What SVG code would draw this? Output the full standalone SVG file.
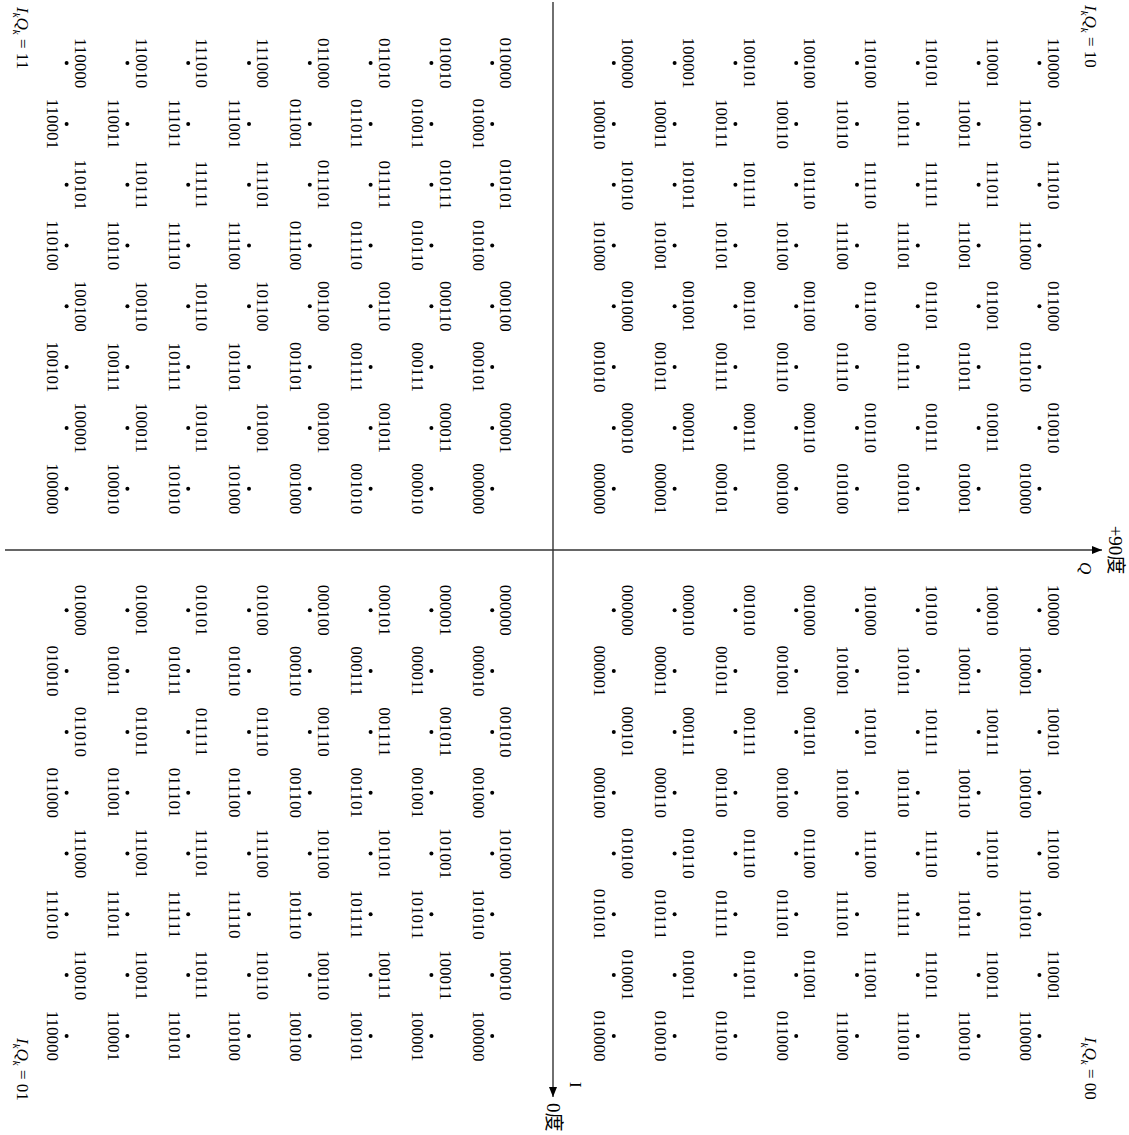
<svg xmlns="http://www.w3.org/2000/svg" width="1129" height="1135" viewBox="0 0 1129 1135">
<style>
text{font-family:"Liberation Serif","Times New Roman","Noto Sans CJK SC",serif;font-size:17px;fill:#000}
.pt text{text-anchor:middle}
.pt circle{fill:#000}
.ax{stroke:#333;stroke-width:1.4;fill:none}
.it{font-style:italic}
.sub{font-style:italic;font-size:11px}
.big{font-size:19px}
</style>
<defs>
<marker id="arr" viewBox="0 0 10 8" refX="10" refY="4" markerWidth="10" markerHeight="8" markerUnits="userSpaceOnUse" orient="auto"><path d="M0,0 L10,4 L0,8 z" fill="#000"/></marker>
</defs>
<rect width="1129" height="1135" fill="#fff"/>
<g transform="translate(1129,0) rotate(90)">
<g id="connectors">
<line id="axis-I" class="ax" x1="2" y1="576" x2="1097" y2="576" marker-end="url(#arr)"/>
<line id="axis-Q" class="ax" x1="550" y1="1124" x2="550" y2="27" marker-end="url(#arr)"/>
</g>
<g id="axis-labels">
<text x="1082" y="559">I</text>
<text class="big" x="1103" y="582">0度</text>
<text class="it" x="562" y="49">Q</text>
<text class="big" x="550" y="20" text-anchor="middle">+90度</text>
</g>
<g id="quadrant-labels">
<text x="7" y="1112"><tspan class="it">I</tspan><tspan class="sub" dy="4">k</tspan><tspan class="it" dy="-4">Q</tspan><tspan class="sub" dy="4">k</tspan><tspan dy="-4"> = 11</tspan></text>
<text x="5" y="44"><tspan class="it">I</tspan><tspan class="sub" dy="4">k</tspan><tspan class="it" dy="-4">Q</tspan><tspan class="sub" dy="4">k</tspan><tspan dy="-4"> = 10</tspan></text>
<text x="1038" y="1112"><tspan class="it">I</tspan><tspan class="sub" dy="4">k</tspan><tspan class="it" dy="-4">Q</tspan><tspan class="sub" dy="4">k</tspan><tspan dy="-4"> = 01</tspan></text>
<text x="1037" y="44"><tspan class="it">I</tspan><tspan class="sub" dy="4">k</tspan><tspan class="it" dy="-4">Q</tspan><tspan class="sub" dy="4">k</tspan><tspan dy="-4"> = 00</tspan></text>
</g>
<g transform="translate(549.5,576)">
<g id="q11" class="pt">
<g id="n11-00" transform="translate(-60.8,60.8)"><circle r="2"/><text y="19.6">000000</text></g>
<g id="n11-01" transform="translate(-121.6,60.8)"><circle r="2"/><text y="-8.3">000001</text></g>
<g id="n11-02" transform="translate(-182.4,60.8)"><circle r="2"/><text y="19.6">000101</text></g>
<g id="n11-03" transform="translate(-243.2,60.8)"><circle r="2"/><text y="-8.3">000100</text></g>
<g id="n11-04" transform="translate(-304,60.8)"><circle r="2"/><text y="19.6">010100</text></g>
<g id="n11-05" transform="translate(-364.8,60.8)"><circle r="2"/><text y="-8.3">010101</text></g>
<g id="n11-06" transform="translate(-425.6,60.8)"><circle r="2"/><text y="19.6">010001</text></g>
<g id="n11-07" transform="translate(-486.4,60.8)"><circle r="2"/><text y="-8.3">010000</text></g>
<g id="n11-10" transform="translate(-60.8,121.6)"><circle r="2"/><text y="19.6">000010</text></g>
<g id="n11-11" transform="translate(-121.6,121.6)"><circle r="2"/><text y="-8.3">000011</text></g>
<g id="n11-12" transform="translate(-182.4,121.6)"><circle r="2"/><text y="19.6">000111</text></g>
<g id="n11-13" transform="translate(-243.2,121.6)"><circle r="2"/><text y="-8.3">000110</text></g>
<g id="n11-14" transform="translate(-304,121.6)"><circle r="2"/><text y="19.6">010110</text></g>
<g id="n11-15" transform="translate(-364.8,121.6)"><circle r="2"/><text y="-8.3">010111</text></g>
<g id="n11-16" transform="translate(-425.6,121.6)"><circle r="2"/><text y="19.6">010011</text></g>
<g id="n11-17" transform="translate(-486.4,121.6)"><circle r="2"/><text y="-8.3">010010</text></g>
<g id="n11-20" transform="translate(-60.8,182.4)"><circle r="2"/><text y="19.6">001010</text></g>
<g id="n11-21" transform="translate(-121.6,182.4)"><circle r="2"/><text y="-8.3">001011</text></g>
<g id="n11-22" transform="translate(-182.4,182.4)"><circle r="2"/><text y="19.6">001111</text></g>
<g id="n11-23" transform="translate(-243.2,182.4)"><circle r="2"/><text y="-8.3">001110</text></g>
<g id="n11-24" transform="translate(-304,182.4)"><circle r="2"/><text y="19.6">011110</text></g>
<g id="n11-25" transform="translate(-364.8,182.4)"><circle r="2"/><text y="-8.3">011111</text></g>
<g id="n11-26" transform="translate(-425.6,182.4)"><circle r="2"/><text y="19.6">011011</text></g>
<g id="n11-27" transform="translate(-486.4,182.4)"><circle r="2"/><text y="-8.3">011010</text></g>
<g id="n11-30" transform="translate(-60.8,243.2)"><circle r="2"/><text y="19.6">001000</text></g>
<g id="n11-31" transform="translate(-121.6,243.2)"><circle r="2"/><text y="-8.3">001001</text></g>
<g id="n11-32" transform="translate(-182.4,243.2)"><circle r="2"/><text y="19.6">001101</text></g>
<g id="n11-33" transform="translate(-243.2,243.2)"><circle r="2"/><text y="-8.3">001100</text></g>
<g id="n11-34" transform="translate(-304,243.2)"><circle r="2"/><text y="19.6">011100</text></g>
<g id="n11-35" transform="translate(-364.8,243.2)"><circle r="2"/><text y="-8.3">011101</text></g>
<g id="n11-36" transform="translate(-425.6,243.2)"><circle r="2"/><text y="19.6">011001</text></g>
<g id="n11-37" transform="translate(-486.4,243.2)"><circle r="2"/><text y="-8.3">011000</text></g>
<g id="n11-40" transform="translate(-60.8,304)"><circle r="2"/><text y="19.6">101000</text></g>
<g id="n11-41" transform="translate(-121.6,304)"><circle r="2"/><text y="-8.3">101001</text></g>
<g id="n11-42" transform="translate(-182.4,304)"><circle r="2"/><text y="19.6">101101</text></g>
<g id="n11-43" transform="translate(-243.2,304)"><circle r="2"/><text y="-8.3">101100</text></g>
<g id="n11-44" transform="translate(-304,304)"><circle r="2"/><text y="19.6">111100</text></g>
<g id="n11-45" transform="translate(-364.8,304)"><circle r="2"/><text y="-8.3">111101</text></g>
<g id="n11-46" transform="translate(-425.6,304)"><circle r="2"/><text y="19.6">111001</text></g>
<g id="n11-47" transform="translate(-486.4,304)"><circle r="2"/><text y="-8.3">111000</text></g>
<g id="n11-50" transform="translate(-60.8,364.8)"><circle r="2"/><text y="19.6">101010</text></g>
<g id="n11-51" transform="translate(-121.6,364.8)"><circle r="2"/><text y="-8.3">101011</text></g>
<g id="n11-52" transform="translate(-182.4,364.8)"><circle r="2"/><text y="19.6">101111</text></g>
<g id="n11-53" transform="translate(-243.2,364.8)"><circle r="2"/><text y="-8.3">101110</text></g>
<g id="n11-54" transform="translate(-304,364.8)"><circle r="2"/><text y="19.6">111110</text></g>
<g id="n11-55" transform="translate(-364.8,364.8)"><circle r="2"/><text y="-8.3">111111</text></g>
<g id="n11-56" transform="translate(-425.6,364.8)"><circle r="2"/><text y="19.6">111011</text></g>
<g id="n11-57" transform="translate(-486.4,364.8)"><circle r="2"/><text y="-8.3">111010</text></g>
<g id="n11-60" transform="translate(-60.8,425.6)"><circle r="2"/><text y="19.6">100010</text></g>
<g id="n11-61" transform="translate(-121.6,425.6)"><circle r="2"/><text y="-8.3">100011</text></g>
<g id="n11-62" transform="translate(-182.4,425.6)"><circle r="2"/><text y="19.6">100111</text></g>
<g id="n11-63" transform="translate(-243.2,425.6)"><circle r="2"/><text y="-8.3">100110</text></g>
<g id="n11-64" transform="translate(-304,425.6)"><circle r="2"/><text y="19.6">110110</text></g>
<g id="n11-65" transform="translate(-364.8,425.6)"><circle r="2"/><text y="-8.3">110111</text></g>
<g id="n11-66" transform="translate(-425.6,425.6)"><circle r="2"/><text y="19.6">110011</text></g>
<g id="n11-67" transform="translate(-486.4,425.6)"><circle r="2"/><text y="-8.3">110010</text></g>
<g id="n11-70" transform="translate(-60.8,486.4)"><circle r="2"/><text y="19.6">100000</text></g>
<g id="n11-71" transform="translate(-121.6,486.4)"><circle r="2"/><text y="-8.3">100001</text></g>
<g id="n11-72" transform="translate(-182.4,486.4)"><circle r="2"/><text y="19.6">100101</text></g>
<g id="n11-73" transform="translate(-243.2,486.4)"><circle r="2"/><text y="-8.3">100100</text></g>
<g id="n11-74" transform="translate(-304,486.4)"><circle r="2"/><text y="19.6">110100</text></g>
<g id="n11-75" transform="translate(-364.8,486.4)"><circle r="2"/><text y="-8.3">110101</text></g>
<g id="n11-76" transform="translate(-425.6,486.4)"><circle r="2"/><text y="19.6">110001</text></g>
<g id="n11-77" transform="translate(-486.4,486.4)"><circle r="2"/><text y="-8.3">110000</text></g>
</g>
<g id="q10" class="pt">
<g id="n10-00" transform="translate(-60.8,-60.8)"><circle r="2"/><text y="19.6">000000</text></g>
<g id="n10-01" transform="translate(-121.6,-60.8)"><circle r="2"/><text y="-8.3">000010</text></g>
<g id="n10-02" transform="translate(-182.4,-60.8)"><circle r="2"/><text y="19.6">001010</text></g>
<g id="n10-03" transform="translate(-243.2,-60.8)"><circle r="2"/><text y="-8.3">001000</text></g>
<g id="n10-04" transform="translate(-304,-60.8)"><circle r="2"/><text y="19.6">101000</text></g>
<g id="n10-05" transform="translate(-364.8,-60.8)"><circle r="2"/><text y="-8.3">101010</text></g>
<g id="n10-06" transform="translate(-425.6,-60.8)"><circle r="2"/><text y="19.6">100010</text></g>
<g id="n10-07" transform="translate(-486.4,-60.8)"><circle r="2"/><text y="-8.3">100000</text></g>
<g id="n10-10" transform="translate(-60.8,-121.6)"><circle r="2"/><text y="19.6">000001</text></g>
<g id="n10-11" transform="translate(-121.6,-121.6)"><circle r="2"/><text y="-8.3">000011</text></g>
<g id="n10-12" transform="translate(-182.4,-121.6)"><circle r="2"/><text y="19.6">001011</text></g>
<g id="n10-13" transform="translate(-243.2,-121.6)"><circle r="2"/><text y="-8.3">001001</text></g>
<g id="n10-14" transform="translate(-304,-121.6)"><circle r="2"/><text y="19.6">101001</text></g>
<g id="n10-15" transform="translate(-364.8,-121.6)"><circle r="2"/><text y="-8.3">101011</text></g>
<g id="n10-16" transform="translate(-425.6,-121.6)"><circle r="2"/><text y="19.6">100011</text></g>
<g id="n10-17" transform="translate(-486.4,-121.6)"><circle r="2"/><text y="-8.3">100001</text></g>
<g id="n10-20" transform="translate(-60.8,-182.4)"><circle r="2"/><text y="19.6">000101</text></g>
<g id="n10-21" transform="translate(-121.6,-182.4)"><circle r="2"/><text y="-8.3">000111</text></g>
<g id="n10-22" transform="translate(-182.4,-182.4)"><circle r="2"/><text y="19.6">001111</text></g>
<g id="n10-23" transform="translate(-243.2,-182.4)"><circle r="2"/><text y="-8.3">001101</text></g>
<g id="n10-24" transform="translate(-304,-182.4)"><circle r="2"/><text y="19.6">101101</text></g>
<g id="n10-25" transform="translate(-364.8,-182.4)"><circle r="2"/><text y="-8.3">101111</text></g>
<g id="n10-26" transform="translate(-425.6,-182.4)"><circle r="2"/><text y="19.6">100111</text></g>
<g id="n10-27" transform="translate(-486.4,-182.4)"><circle r="2"/><text y="-8.3">100101</text></g>
<g id="n10-30" transform="translate(-60.8,-243.2)"><circle r="2"/><text y="19.6">000100</text></g>
<g id="n10-31" transform="translate(-121.6,-243.2)"><circle r="2"/><text y="-8.3">000110</text></g>
<g id="n10-32" transform="translate(-182.4,-243.2)"><circle r="2"/><text y="19.6">001110</text></g>
<g id="n10-33" transform="translate(-243.2,-243.2)"><circle r="2"/><text y="-8.3">001100</text></g>
<g id="n10-34" transform="translate(-304,-243.2)"><circle r="2"/><text y="19.6">101100</text></g>
<g id="n10-35" transform="translate(-364.8,-243.2)"><circle r="2"/><text y="-8.3">101110</text></g>
<g id="n10-36" transform="translate(-425.6,-243.2)"><circle r="2"/><text y="19.6">100110</text></g>
<g id="n10-37" transform="translate(-486.4,-243.2)"><circle r="2"/><text y="-8.3">100100</text></g>
<g id="n10-40" transform="translate(-60.8,-304)"><circle r="2"/><text y="19.6">010100</text></g>
<g id="n10-41" transform="translate(-121.6,-304)"><circle r="2"/><text y="-8.3">010110</text></g>
<g id="n10-42" transform="translate(-182.4,-304)"><circle r="2"/><text y="19.6">011110</text></g>
<g id="n10-43" transform="translate(-243.2,-304)"><circle r="2"/><text y="-8.3">011100</text></g>
<g id="n10-44" transform="translate(-304,-304)"><circle r="2"/><text y="19.6">111100</text></g>
<g id="n10-45" transform="translate(-364.8,-304)"><circle r="2"/><text y="-8.3">111110</text></g>
<g id="n10-46" transform="translate(-425.6,-304)"><circle r="2"/><text y="19.6">110110</text></g>
<g id="n10-47" transform="translate(-486.4,-304)"><circle r="2"/><text y="-8.3">110100</text></g>
<g id="n10-50" transform="translate(-60.8,-364.8)"><circle r="2"/><text y="19.6">010101</text></g>
<g id="n10-51" transform="translate(-121.6,-364.8)"><circle r="2"/><text y="-8.3">010111</text></g>
<g id="n10-52" transform="translate(-182.4,-364.8)"><circle r="2"/><text y="19.6">011111</text></g>
<g id="n10-53" transform="translate(-243.2,-364.8)"><circle r="2"/><text y="-8.3">011101</text></g>
<g id="n10-54" transform="translate(-304,-364.8)"><circle r="2"/><text y="19.6">111101</text></g>
<g id="n10-55" transform="translate(-364.8,-364.8)"><circle r="2"/><text y="-8.3">111111</text></g>
<g id="n10-56" transform="translate(-425.6,-364.8)"><circle r="2"/><text y="19.6">110111</text></g>
<g id="n10-57" transform="translate(-486.4,-364.8)"><circle r="2"/><text y="-8.3">110101</text></g>
<g id="n10-60" transform="translate(-60.8,-425.6)"><circle r="2"/><text y="19.6">010001</text></g>
<g id="n10-61" transform="translate(-121.6,-425.6)"><circle r="2"/><text y="-8.3">010011</text></g>
<g id="n10-62" transform="translate(-182.4,-425.6)"><circle r="2"/><text y="19.6">011011</text></g>
<g id="n10-63" transform="translate(-243.2,-425.6)"><circle r="2"/><text y="-8.3">011001</text></g>
<g id="n10-64" transform="translate(-304,-425.6)"><circle r="2"/><text y="19.6">111001</text></g>
<g id="n10-65" transform="translate(-364.8,-425.6)"><circle r="2"/><text y="-8.3">111011</text></g>
<g id="n10-66" transform="translate(-425.6,-425.6)"><circle r="2"/><text y="19.6">110011</text></g>
<g id="n10-67" transform="translate(-486.4,-425.6)"><circle r="2"/><text y="-8.3">110001</text></g>
<g id="n10-70" transform="translate(-60.8,-486.4)"><circle r="2"/><text y="19.6">010000</text></g>
<g id="n10-71" transform="translate(-121.6,-486.4)"><circle r="2"/><text y="-8.3">010010</text></g>
<g id="n10-72" transform="translate(-182.4,-486.4)"><circle r="2"/><text y="19.6">011010</text></g>
<g id="n10-73" transform="translate(-243.2,-486.4)"><circle r="2"/><text y="-8.3">011000</text></g>
<g id="n10-74" transform="translate(-304,-486.4)"><circle r="2"/><text y="19.6">111000</text></g>
<g id="n10-75" transform="translate(-364.8,-486.4)"><circle r="2"/><text y="-8.3">111010</text></g>
<g id="n10-76" transform="translate(-425.6,-486.4)"><circle r="2"/><text y="19.6">110010</text></g>
<g id="n10-77" transform="translate(-486.4,-486.4)"><circle r="2"/><text y="-8.3">110000</text></g>
</g>
<g id="q00" class="pt">
<g id="n00-00" transform="translate(60.8,-60.8)"><circle r="2"/><text y="-8.3">000000</text></g>
<g id="n00-01" transform="translate(121.6,-60.8)"><circle r="2"/><text y="19.6">000001</text></g>
<g id="n00-02" transform="translate(182.4,-60.8)"><circle r="2"/><text y="-8.3">000101</text></g>
<g id="n00-03" transform="translate(243.2,-60.8)"><circle r="2"/><text y="19.6">000100</text></g>
<g id="n00-04" transform="translate(304,-60.8)"><circle r="2"/><text y="-8.3">010100</text></g>
<g id="n00-05" transform="translate(364.8,-60.8)"><circle r="2"/><text y="19.6">010101</text></g>
<g id="n00-06" transform="translate(425.6,-60.8)"><circle r="2"/><text y="-8.3">010001</text></g>
<g id="n00-07" transform="translate(486.4,-60.8)"><circle r="2"/><text y="19.6">010000</text></g>
<g id="n00-10" transform="translate(60.8,-121.6)"><circle r="2"/><text y="-8.3">000010</text></g>
<g id="n00-11" transform="translate(121.6,-121.6)"><circle r="2"/><text y="19.6">000011</text></g>
<g id="n00-12" transform="translate(182.4,-121.6)"><circle r="2"/><text y="-8.3">000111</text></g>
<g id="n00-13" transform="translate(243.2,-121.6)"><circle r="2"/><text y="19.6">000110</text></g>
<g id="n00-14" transform="translate(304,-121.6)"><circle r="2"/><text y="-8.3">010110</text></g>
<g id="n00-15" transform="translate(364.8,-121.6)"><circle r="2"/><text y="19.6">010111</text></g>
<g id="n00-16" transform="translate(425.6,-121.6)"><circle r="2"/><text y="-8.3">010011</text></g>
<g id="n00-17" transform="translate(486.4,-121.6)"><circle r="2"/><text y="19.6">010010</text></g>
<g id="n00-20" transform="translate(60.8,-182.4)"><circle r="2"/><text y="-8.3">001010</text></g>
<g id="n00-21" transform="translate(121.6,-182.4)"><circle r="2"/><text y="19.6">001011</text></g>
<g id="n00-22" transform="translate(182.4,-182.4)"><circle r="2"/><text y="-8.3">001111</text></g>
<g id="n00-23" transform="translate(243.2,-182.4)"><circle r="2"/><text y="19.6">001110</text></g>
<g id="n00-24" transform="translate(304,-182.4)"><circle r="2"/><text y="-8.3">011110</text></g>
<g id="n00-25" transform="translate(364.8,-182.4)"><circle r="2"/><text y="19.6">011111</text></g>
<g id="n00-26" transform="translate(425.6,-182.4)"><circle r="2"/><text y="-8.3">011011</text></g>
<g id="n00-27" transform="translate(486.4,-182.4)"><circle r="2"/><text y="19.6">011010</text></g>
<g id="n00-30" transform="translate(60.8,-243.2)"><circle r="2"/><text y="-8.3">001000</text></g>
<g id="n00-31" transform="translate(121.6,-243.2)"><circle r="2"/><text y="19.6">001001</text></g>
<g id="n00-32" transform="translate(182.4,-243.2)"><circle r="2"/><text y="-8.3">001101</text></g>
<g id="n00-33" transform="translate(243.2,-243.2)"><circle r="2"/><text y="19.6">001100</text></g>
<g id="n00-34" transform="translate(304,-243.2)"><circle r="2"/><text y="-8.3">011100</text></g>
<g id="n00-35" transform="translate(364.8,-243.2)"><circle r="2"/><text y="19.6">011101</text></g>
<g id="n00-36" transform="translate(425.6,-243.2)"><circle r="2"/><text y="-8.3">011001</text></g>
<g id="n00-37" transform="translate(486.4,-243.2)"><circle r="2"/><text y="19.6">011000</text></g>
<g id="n00-40" transform="translate(60.8,-304)"><circle r="2"/><text y="-8.3">101000</text></g>
<g id="n00-41" transform="translate(121.6,-304)"><circle r="2"/><text y="19.6">101001</text></g>
<g id="n00-42" transform="translate(182.4,-304)"><circle r="2"/><text y="-8.3">101101</text></g>
<g id="n00-43" transform="translate(243.2,-304)"><circle r="2"/><text y="19.6">101100</text></g>
<g id="n00-44" transform="translate(304,-304)"><circle r="2"/><text y="-8.3">111100</text></g>
<g id="n00-45" transform="translate(364.8,-304)"><circle r="2"/><text y="19.6">111101</text></g>
<g id="n00-46" transform="translate(425.6,-304)"><circle r="2"/><text y="-8.3">111001</text></g>
<g id="n00-47" transform="translate(486.4,-304)"><circle r="2"/><text y="19.6">111000</text></g>
<g id="n00-50" transform="translate(60.8,-364.8)"><circle r="2"/><text y="-8.3">101010</text></g>
<g id="n00-51" transform="translate(121.6,-364.8)"><circle r="2"/><text y="19.6">101011</text></g>
<g id="n00-52" transform="translate(182.4,-364.8)"><circle r="2"/><text y="-8.3">101111</text></g>
<g id="n00-53" transform="translate(243.2,-364.8)"><circle r="2"/><text y="19.6">101110</text></g>
<g id="n00-54" transform="translate(304,-364.8)"><circle r="2"/><text y="-8.3">111110</text></g>
<g id="n00-55" transform="translate(364.8,-364.8)"><circle r="2"/><text y="19.6">111111</text></g>
<g id="n00-56" transform="translate(425.6,-364.8)"><circle r="2"/><text y="-8.3">111011</text></g>
<g id="n00-57" transform="translate(486.4,-364.8)"><circle r="2"/><text y="19.6">111010</text></g>
<g id="n00-60" transform="translate(60.8,-425.6)"><circle r="2"/><text y="-8.3">100010</text></g>
<g id="n00-61" transform="translate(121.6,-425.6)"><circle r="2"/><text y="19.6">100011</text></g>
<g id="n00-62" transform="translate(182.4,-425.6)"><circle r="2"/><text y="-8.3">100111</text></g>
<g id="n00-63" transform="translate(243.2,-425.6)"><circle r="2"/><text y="19.6">100110</text></g>
<g id="n00-64" transform="translate(304,-425.6)"><circle r="2"/><text y="-8.3">110110</text></g>
<g id="n00-65" transform="translate(364.8,-425.6)"><circle r="2"/><text y="19.6">110111</text></g>
<g id="n00-66" transform="translate(425.6,-425.6)"><circle r="2"/><text y="-8.3">110011</text></g>
<g id="n00-67" transform="translate(486.4,-425.6)"><circle r="2"/><text y="19.6">110010</text></g>
<g id="n00-70" transform="translate(60.8,-486.4)"><circle r="2"/><text y="-8.3">100000</text></g>
<g id="n00-71" transform="translate(121.6,-486.4)"><circle r="2"/><text y="19.6">100001</text></g>
<g id="n00-72" transform="translate(182.4,-486.4)"><circle r="2"/><text y="-8.3">100101</text></g>
<g id="n00-73" transform="translate(243.2,-486.4)"><circle r="2"/><text y="19.6">100100</text></g>
<g id="n00-74" transform="translate(304,-486.4)"><circle r="2"/><text y="-8.3">110100</text></g>
<g id="n00-75" transform="translate(364.8,-486.4)"><circle r="2"/><text y="19.6">110101</text></g>
<g id="n00-76" transform="translate(425.6,-486.4)"><circle r="2"/><text y="-8.3">110001</text></g>
<g id="n00-77" transform="translate(486.4,-486.4)"><circle r="2"/><text y="19.6">110000</text></g>
</g>
<g id="q01" class="pt">
<g id="n01-00" transform="translate(60.8,60.8)"><circle r="2"/><text y="-8.3">000000</text></g>
<g id="n01-01" transform="translate(121.6,60.8)"><circle r="2"/><text y="19.6">000010</text></g>
<g id="n01-02" transform="translate(182.4,60.8)"><circle r="2"/><text y="-8.3">001010</text></g>
<g id="n01-03" transform="translate(243.2,60.8)"><circle r="2"/><text y="19.6">001000</text></g>
<g id="n01-04" transform="translate(304,60.8)"><circle r="2"/><text y="-8.3">101000</text></g>
<g id="n01-05" transform="translate(364.8,60.8)"><circle r="2"/><text y="19.6">101010</text></g>
<g id="n01-06" transform="translate(425.6,60.8)"><circle r="2"/><text y="-8.3">100010</text></g>
<g id="n01-07" transform="translate(486.4,60.8)"><circle r="2"/><text y="19.6">100000</text></g>
<g id="n01-10" transform="translate(60.8,121.6)"><circle r="2"/><text y="-8.3">000001</text></g>
<g id="n01-11" transform="translate(121.6,121.6)"><circle r="2"/><text y="19.6">000011</text></g>
<g id="n01-12" transform="translate(182.4,121.6)"><circle r="2"/><text y="-8.3">001011</text></g>
<g id="n01-13" transform="translate(243.2,121.6)"><circle r="2"/><text y="19.6">001001</text></g>
<g id="n01-14" transform="translate(304,121.6)"><circle r="2"/><text y="-8.3">101001</text></g>
<g id="n01-15" transform="translate(364.8,121.6)"><circle r="2"/><text y="19.6">101011</text></g>
<g id="n01-16" transform="translate(425.6,121.6)"><circle r="2"/><text y="-8.3">100011</text></g>
<g id="n01-17" transform="translate(486.4,121.6)"><circle r="2"/><text y="19.6">100001</text></g>
<g id="n01-20" transform="translate(60.8,182.4)"><circle r="2"/><text y="-8.3">000101</text></g>
<g id="n01-21" transform="translate(121.6,182.4)"><circle r="2"/><text y="19.6">000111</text></g>
<g id="n01-22" transform="translate(182.4,182.4)"><circle r="2"/><text y="-8.3">001111</text></g>
<g id="n01-23" transform="translate(243.2,182.4)"><circle r="2"/><text y="19.6">001101</text></g>
<g id="n01-24" transform="translate(304,182.4)"><circle r="2"/><text y="-8.3">101101</text></g>
<g id="n01-25" transform="translate(364.8,182.4)"><circle r="2"/><text y="19.6">101111</text></g>
<g id="n01-26" transform="translate(425.6,182.4)"><circle r="2"/><text y="-8.3">100111</text></g>
<g id="n01-27" transform="translate(486.4,182.4)"><circle r="2"/><text y="19.6">100101</text></g>
<g id="n01-30" transform="translate(60.8,243.2)"><circle r="2"/><text y="-8.3">000100</text></g>
<g id="n01-31" transform="translate(121.6,243.2)"><circle r="2"/><text y="19.6">000110</text></g>
<g id="n01-32" transform="translate(182.4,243.2)"><circle r="2"/><text y="-8.3">001110</text></g>
<g id="n01-33" transform="translate(243.2,243.2)"><circle r="2"/><text y="19.6">001100</text></g>
<g id="n01-34" transform="translate(304,243.2)"><circle r="2"/><text y="-8.3">101100</text></g>
<g id="n01-35" transform="translate(364.8,243.2)"><circle r="2"/><text y="19.6">101110</text></g>
<g id="n01-36" transform="translate(425.6,243.2)"><circle r="2"/><text y="-8.3">100110</text></g>
<g id="n01-37" transform="translate(486.4,243.2)"><circle r="2"/><text y="19.6">100100</text></g>
<g id="n01-40" transform="translate(60.8,304)"><circle r="2"/><text y="-8.3">010100</text></g>
<g id="n01-41" transform="translate(121.6,304)"><circle r="2"/><text y="19.6">010110</text></g>
<g id="n01-42" transform="translate(182.4,304)"><circle r="2"/><text y="-8.3">011110</text></g>
<g id="n01-43" transform="translate(243.2,304)"><circle r="2"/><text y="19.6">011100</text></g>
<g id="n01-44" transform="translate(304,304)"><circle r="2"/><text y="-8.3">111100</text></g>
<g id="n01-45" transform="translate(364.8,304)"><circle r="2"/><text y="19.6">111110</text></g>
<g id="n01-46" transform="translate(425.6,304)"><circle r="2"/><text y="-8.3">110110</text></g>
<g id="n01-47" transform="translate(486.4,304)"><circle r="2"/><text y="19.6">110100</text></g>
<g id="n01-50" transform="translate(60.8,364.8)"><circle r="2"/><text y="-8.3">010101</text></g>
<g id="n01-51" transform="translate(121.6,364.8)"><circle r="2"/><text y="19.6">010111</text></g>
<g id="n01-52" transform="translate(182.4,364.8)"><circle r="2"/><text y="-8.3">011111</text></g>
<g id="n01-53" transform="translate(243.2,364.8)"><circle r="2"/><text y="19.6">011101</text></g>
<g id="n01-54" transform="translate(304,364.8)"><circle r="2"/><text y="-8.3">111101</text></g>
<g id="n01-55" transform="translate(364.8,364.8)"><circle r="2"/><text y="19.6">111111</text></g>
<g id="n01-56" transform="translate(425.6,364.8)"><circle r="2"/><text y="-8.3">110111</text></g>
<g id="n01-57" transform="translate(486.4,364.8)"><circle r="2"/><text y="19.6">110101</text></g>
<g id="n01-60" transform="translate(60.8,425.6)"><circle r="2"/><text y="-8.3">010001</text></g>
<g id="n01-61" transform="translate(121.6,425.6)"><circle r="2"/><text y="19.6">010011</text></g>
<g id="n01-62" transform="translate(182.4,425.6)"><circle r="2"/><text y="-8.3">011011</text></g>
<g id="n01-63" transform="translate(243.2,425.6)"><circle r="2"/><text y="19.6">011001</text></g>
<g id="n01-64" transform="translate(304,425.6)"><circle r="2"/><text y="-8.3">111001</text></g>
<g id="n01-65" transform="translate(364.8,425.6)"><circle r="2"/><text y="19.6">111011</text></g>
<g id="n01-66" transform="translate(425.6,425.6)"><circle r="2"/><text y="-8.3">110011</text></g>
<g id="n01-67" transform="translate(486.4,425.6)"><circle r="2"/><text y="19.6">110001</text></g>
<g id="n01-70" transform="translate(60.8,486.4)"><circle r="2"/><text y="-8.3">010000</text></g>
<g id="n01-71" transform="translate(121.6,486.4)"><circle r="2"/><text y="19.6">010010</text></g>
<g id="n01-72" transform="translate(182.4,486.4)"><circle r="2"/><text y="-8.3">011010</text></g>
<g id="n01-73" transform="translate(243.2,486.4)"><circle r="2"/><text y="19.6">011000</text></g>
<g id="n01-74" transform="translate(304,486.4)"><circle r="2"/><text y="-8.3">111000</text></g>
<g id="n01-75" transform="translate(364.8,486.4)"><circle r="2"/><text y="19.6">111010</text></g>
<g id="n01-76" transform="translate(425.6,486.4)"><circle r="2"/><text y="-8.3">110010</text></g>
<g id="n01-77" transform="translate(486.4,486.4)"><circle r="2"/><text y="19.6">110000</text></g>
</g>
</g>
</g>
</svg>
